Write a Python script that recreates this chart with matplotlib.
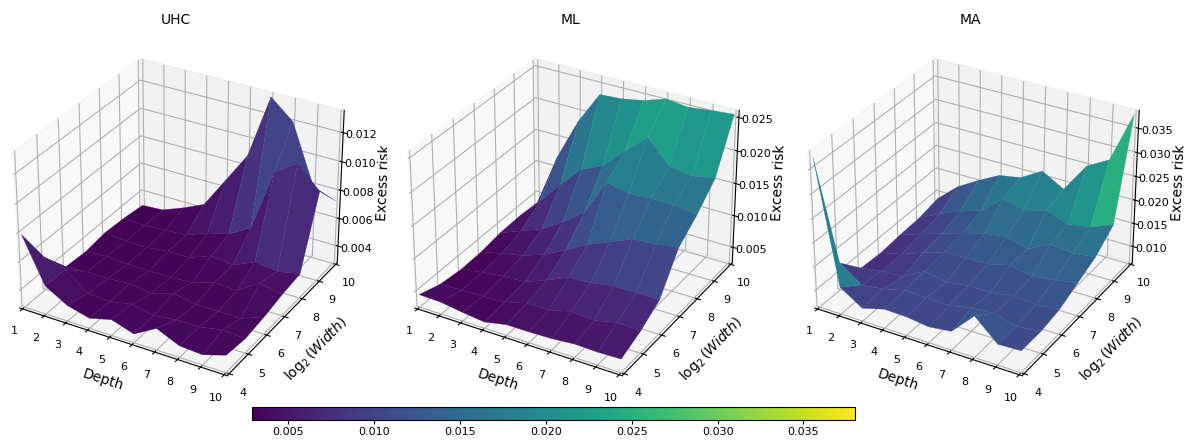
import matplotlib
matplotlib.use('Agg')
import matplotlib.pyplot as plt
import numpy as np
from matplotlib import cm
from matplotlib.colors import Normalize

depths = np.arange(1, 11)
log_widths = np.arange(4, 11)

# excess risk x 1000, one row per log2(width) = 4..10, one column per depth = 1..10
uhc_risk = np.array([
    [7.9, 4.8, 3.9, 3.5, 3.9, 3.4, 4.3, 3.6, 3.5, 4.0],
    [5.1, 4.7, 3.5, 3.4, 3.7, 3.4, 3.6, 3.6, 3.9, 3.8],
    [3.2, 3.3, 3.3, 3.4, 3.2, 3.7, 3.4, 3.4, 3.4, 4.0],
    [3.1, 3.2, 3.1, 3.1, 3.1, 3.2, 3.7, 3.6, 4.6, 4.3],
    [3.3, 3.1, 3.1, 3.3, 3.3, 3.9, 3.7, 4.4, 4.2, 4.5],
    [3.2, 3.1, 3.2, 3.3, 3.9, 4.3, 5.2, 9.6, 10.6, 9.1],
    [3.0, 3.1, 3.7, 4.4, 6.6, 8.8, 13.3, 12.0, 7.9, 7.3],
]) / 1000

ml_risk = np.array([
    [4.5, 4.4, 3.9, 3.5, 4.2, 4.2, 4.3, 4.6, 4.5, 4.6],
    [3.4, 3.5, 3.6, 3.8, 4.7, 4.7, 5.6, 5.3, 6.1, 5.9],
    [3.0, 3.6, 4.0, 4.2, 5.5, 7.0, 7.2, 7.8, 7.8, 7.8],
    [3.1, 3.9, 4.6, 5.8, 7.5, 9.4, 10.8, 12.3, 12.5, 13.0],
    [3.6, 4.9, 6.2, 8.3, 10.8, 16.4, 15.7, 15.9, 15.9, 15.4],
    [3.7, 7.0, 10.7, 14.1, 15.6, 18.8, 21.8, 18.3, 17.8, 18.4],
    [3.5, 11.9, 18.4, 23.4, 23.6, 24.2, 25.3, 24.9, 25.3, 25.6],
]) / 1000

ma_risk = np.array([
    [37.5, 12.2, 9.2, 10.5, 10.4, 9.8, 10.4, 15.1, 10.8, 11.0],
    [12.2, 8.9, 9.5, 10.7, 10.6, 10.4, 11.4, 11.7, 10.6, 10.9],
    [7.4, 8.2, 8.4, 11.0, 10.1, 10.8, 10.8, 11.5, 11.2, 11.6],
    [7.1, 8.2, 9.9, 11.4, 11.6, 11.7, 12.9, 12.0, 12.6, 13.4],
    [7.5, 9.0, 10.5, 12.0, 13.3, 13.9, 12.7, 15.1, 14.6, 15.2],
    [7.7, 10.0, 11.9, 13.4, 17.3, 16.2, 17.4, 15.8, 16.6, 18.4],
    [8.6, 12.6, 15.3, 17.7, 18.5, 21.2, 18.6, 24.8, 27.4, 38.0],
]) / 1000

titles = ['UHC', 'ML', 'MA']
risks = [uhc_risk, ml_risk, ma_risk]
z_ticks = [
    [0.004, 0.006, 0.008, 0.010, 0.012],
    [0.005, 0.010, 0.015, 0.020, 0.025],
    [0.010, 0.015, 0.020, 0.025, 0.030, 0.035],
]
cbar_ticks = [0.005, 0.010, 0.015, 0.020, 0.025, 0.030, 0.035]

norm = Normalize(vmin=0.0029, vmax=0.038)

fig = plt.figure(figsize=(11.86, 4.4), dpi=100)
X, Y = np.meshgrid(depths, log_widths)

# left edge of each panel in pixels
lefts = [-8, 387, 787]
size = 369
bottom = 41
for i in range(3):
    ax = fig.add_axes([lefts[i] / 1186, bottom / 440, size / 1186, size / 440], projection='3d')
    surf = ax.plot_surface(X, Y, risks[i], cmap='viridis', norm=norm, linewidth=0.2)
    surf.set_edgecolor('face')
    ax.set_xlim(0.87, 10.13)
    ax.set_ylim(3.9, 10.1)
    ax.set_xlabel('Depth', labelpad=-1, fontsize=10)
    ax.set_ylabel(r'$\log_2(Width)$', labelpad=0, fontsize=10)
    ax.set_zlabel('Excess risk', labelpad=-2, fontsize=10)
    ax.set_xticks(depths)
    ax.set_yticks(log_widths)
    ax.set_zticks(z_ticks[i])
    ax.tick_params(axis='both', labelsize=8, pad=1)
    ax.tick_params(axis='z', labelsize=8, pad=0)
    fig.text((lefts[i] + size / 2 - 1) / 1186, 1 - 20 / 440, titles[i], fontsize=10, ha='center', va='center')

cax = fig.add_axes([252 / 1186, 1 - 420 / 440, 603 / 1186, 13 / 440])
sm = cm.ScalarMappable(norm=norm, cmap='viridis')
cb = fig.colorbar(sm, cax=cax, orientation='horizontal')
cb.set_ticks(cbar_ticks)
cb.ax.tick_params(labelsize=8, pad=2, length=3)

fig.savefig('out.png', dpi=100)
